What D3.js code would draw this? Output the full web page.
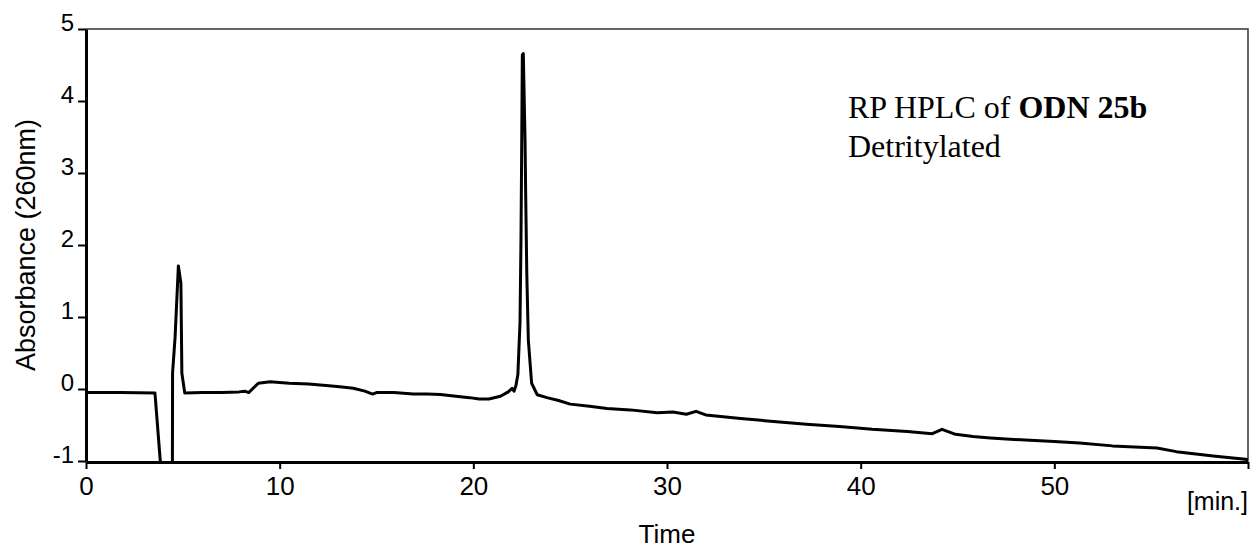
<!DOCTYPE html>
<html>
<head>
<meta charset="utf-8">
<script src="https://cdn.jsdelivr.net/npm/d3@7"></script>
<style>
  body { margin: 0; background: #fff; }
  svg { display: block; }
  .axis text { font-family: Arial, "Liberation Sans", sans-serif; fill: #000; }
</style>
</head>
<body>
<div id="canvas"></div>
<script>
// retention time (min) and absorbance readings at 260nm
const time = [0, 1.8, 3.56, 3.85, 3.9, 4.46, 4.47, 4.6, 4.77, 4.9, 4.95, 5.1,
  6.0, 7.0, 7.9, 8.2, 8.4, 8.9, 9.5, 10.5, 11.5, 12.4, 13.1, 13.8, 14.4, 14.8,
  15.0, 15.9, 16.9, 17.6, 18.3, 19.1, 19.8, 20.3, 20.8, 21.4, 21.8, 22.0, 22.1,
  22.2, 22.3, 22.41, 22.46, 22.5, 22.53, 22.58, 22.67, 22.7, 22.76, 22.84, 23.01,
  23.3, 23.8, 24.4, 25.0, 26.0, 26.9, 28.1, 29.5, 30.3, 31.0, 31.5, 32.0, 33.8,
  35.5, 37.2, 38.9, 40.6, 42.4, 43.7, 44.2, 44.9, 45.8, 46.7, 48.5, 50.0, 51.3,
  53.0, 55.3, 56.3, 58.2, 60.0];
const absorbance = [-0.05, -0.05, -0.055, -1.05, -1.4, -1.4, 0.22, 0.72, 1.71, 1.47, 0.22, -0.055,
  -0.05, -0.05, -0.04, -0.03, -0.05, 0.08, 0.1, 0.08, 0.07, 0.05, 0.03, 0.01, -0.03, -0.07,
  -0.05, -0.05, -0.07, -0.07, -0.075, -0.1, -0.12, -0.14, -0.14, -0.1, -0.04, 0.01, -0.03,
  0.05, 0.2, 0.92, 2.07, 3.46, 4.64, 4.66, 3.46, 2.76, 1.61, 0.68, 0.08,
  -0.08, -0.12, -0.16, -0.21, -0.24, -0.27, -0.29, -0.33, -0.32, -0.35, -0.31, -0.36, -0.41,
  -0.45, -0.49, -0.52, -0.56, -0.59, -0.62, -0.56, -0.63, -0.66, -0.68, -0.71, -0.73, -0.75,
  -0.79, -0.82, -0.87, -0.93, -0.98];

const xTicks = [0, 10, 20, 30, 40, 50, 60];
const yTicks = [-1, 0, 1, 2, 3, 4, 5];
const noteLine1 = "RP HPLC of ";
const noteBold = "ODN 25b";
const noteLine2 = "Detritylated";

const width = 1253;
const height = 550;
const margin = { top: 29, left: 86, bottom: 89, right: 5 };

const svg = d3.select("#canvas").append("svg")
  .attr("width", width)
  .attr("height", height);

const x = d3.scaleLinear()
  .domain([0, 60])
  .range([margin.left, width - margin.right]);

const y = d3.scaleLinear()
  .domain([-1, 5])
  .range([height - margin.bottom, margin.top]);

const data = time.map((t, i) => ({ t: t, v: absorbance[i] }));

// thin frame on top and right
svg.append("path")
  .attr("d", `M${x(0)},${y(5)}H${x(60)}V${y(-1)}`)
  .attr("fill", "none")
  .attr("stroke", "#333")
  .attr("stroke-width", 1.5);

svg.append("clipPath").attr("id", "plot")
  .append("rect")
  .attr("x", x(0)).attr("y", y(5))
  .attr("width", x(60) - x(0)).attr("height", y(-1) - y(5));

const line = d3.line()
  .x(d => x(d.t))
  .y(d => y(d.v));

svg.append("path")
  .datum(data)
  .attr("clip-path", "url(#plot)")
  .attr("fill", "none")
  .attr("stroke", "#000")
  .attr("stroke-width", 3)
  .attr("stroke-linejoin", "round")
  .attr("d", line);

const xAxis = svg.append("g")
  .attr("class", "axis")
  .attr("transform", `translate(0,${y(-1) + 1})`)
  .call(d3.axisBottom(x).tickValues(xTicks).tickSize(7).tickSizeOuter(0).tickPadding(8)
    .tickFormat(d => d === 60 ? "" : String(d)));
xAxis.selectAll("text").style("font-size", "26px");

const yAxis = svg.append("g")
  .attr("class", "axis")
  .attr("transform", `translate(${x(0)},0)`)
  .call(d3.axisLeft(y).tickValues(yTicks).tickSize(8).tickSizeOuter(0).tickPadding(4)
    .tickFormat(d => String(d)));
yAxis.selectAll("text").style("font-size", "24px").attr("dy", "0.08em");

svg.selectAll(".axis .domain").attr("stroke", "#000").attr("stroke-width", 3);
svg.selectAll(".axis .tick line").attr("stroke", "#000").attr("stroke-width", 2);

svg.append("text")
  .attr("transform", `translate(35,${(y(5) + y(-1)) / 2}) rotate(-90)`)
  .attr("text-anchor", "middle")
  .style("font-family", "Arial, 'Liberation Sans', sans-serif")
  .style("font-size", "27px")
  .text("Absorbance (260nm)");

svg.append("text")
  .attr("x", (x(0) + x(60)) / 2)
  .attr("y", 543)
  .attr("text-anchor", "middle")
  .style("font-family", "Arial, 'Liberation Sans', sans-serif")
  .style("font-size", "26px")
  .text("Time");

svg.append("text")
  .attr("x", x(60))
  .attr("y", 510)
  .attr("text-anchor", "end")
  .style("font-family", "Arial, 'Liberation Sans', sans-serif")
  .style("font-size", "25px")
  .text("[min.]");

const note = svg.append("text")
  .attr("x", 848)
  .attr("y", 118)
  .style("font-family", "'Times New Roman', 'Liberation Serif', serif")
  .style("font-size", "32px");
note.append("tspan").text(noteLine1);
note.append("tspan").style("font-weight", "bold").text(noteBold);
svg.append("text")
  .attr("x", 848)
  .attr("y", 157)
  .style("font-family", "'Times New Roman', 'Liberation Serif', serif")
  .style("font-size", "32px")
  .text(noteLine2);
</script>
</body>
</html>
